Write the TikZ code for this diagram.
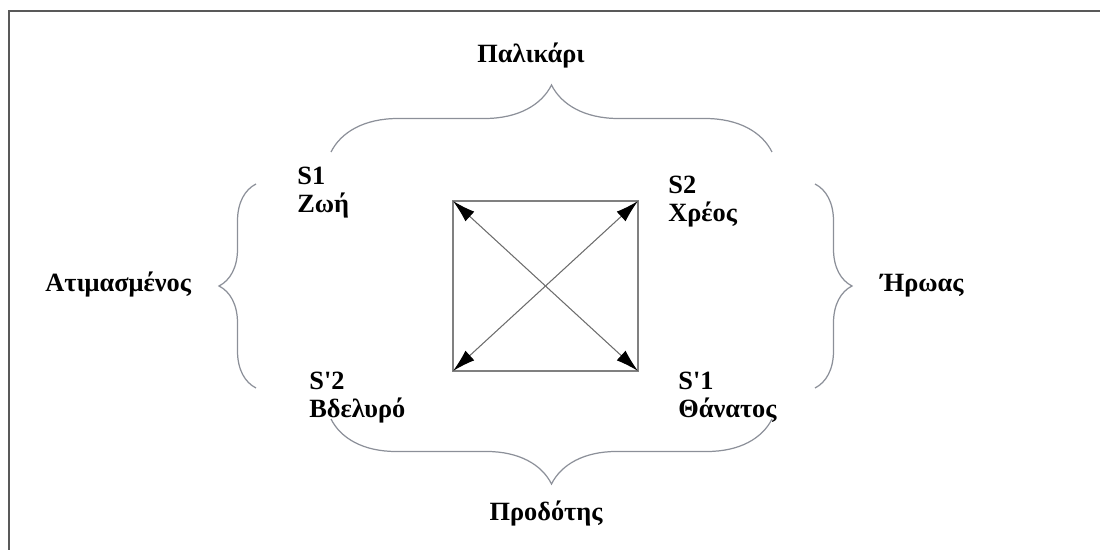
\documentclass[tikz,border=0pt]{standalone}
\usepackage{fontspec}
\setmainfont{Liberation Serif}
\usepackage{xcolor}
\usepackage{tikz}
\usetikzlibrary{arrows.meta,decorations.pathreplacing}
\definecolor{bracegray}{HTML}{8C9099}

\begin{document}
\begin{tikzpicture}[x=0.02cm,y=-0.02cm,
    lbl/.style={font=\bfseries\fontsize{15}{15.5}\selectfont, inner sep=0pt, align=left},
    brc/.style={draw=bracegray, line width=0.7pt, decorate, decoration={brace,amplitude=#1}},
    diag/.style={draw=gray!85!black, line width=0.6pt, {Latex[length=13pt,width=7.5pt,black]}-{Latex[length=13pt,width=7.5pt,black]}}]
  \useasboundingbox (0,0) rectangle (1100,550);
  \draw[black!65, line width=1.2pt] (9,550) -- (9,11) -- (1100,11);
  % square with its corners
  \coordinate (zoi) at (453,201);
  \coordinate (chreos) at (638,201);
  \coordinate (thanatos) at (638,371);
  \coordinate (vdelyro) at (453,371);
  \draw[gray, line width=1pt] (zoi) -- (chreos) -- (thanatos) -- (vdelyro) -- cycle;
  \draw[diag] (zoi) -- (thanatos);
  \draw[diag] (chreos) -- (vdelyro);
  % corner labels
  \node[lbl, anchor=north west] (s1) at (297,167) {S1\\Ζωή};
  \node[lbl, anchor=north west] (s2) at (668,176) {S2\\Χρέος};
  \node[lbl, anchor=north west] (s2b) at (309,372) {S\textquotesingle 2\\Βδελυρό};
  \node[lbl, anchor=north west] (s1b) at (678,372) {S\textquotesingle 1\\Θάνατος};
  % braces
  \coordinate (top1) at (331,152);
  \coordinate (top2) at (772,152);
  \coordinate (bot1) at (331,419);
  \coordinate (bot2) at (772,419);
  \coordinate (lft1) at (256,184);
  \coordinate (lft2) at (256,388);
  \coordinate (rgt1) at (815,184);
  \coordinate (rgt2) at (815,388);
  \draw[brc=1.34cm] (top1) -- (top2);
  \draw[brc=1.30cm] (bot2) -- (bot1);
  \draw[brc=0.74cm] (lft2) -- (lft1);
  \draw[brc=0.74cm] (rgt1) -- (rgt2);
  % side labels
  \node[lbl, anchor=base] (palikari) at (531,63) {Παλικάρι};
  \node[lbl, anchor=base] (prodotis) at (546,521) {Προδότης};
  \node[lbl, anchor=base west] (atimasmenos) at (45,292) {Ατιμασμένος};
  \node[lbl, anchor=base west] (iroas) at (880,292) {Ήρωας};
\end{tikzpicture}
\end{document}
